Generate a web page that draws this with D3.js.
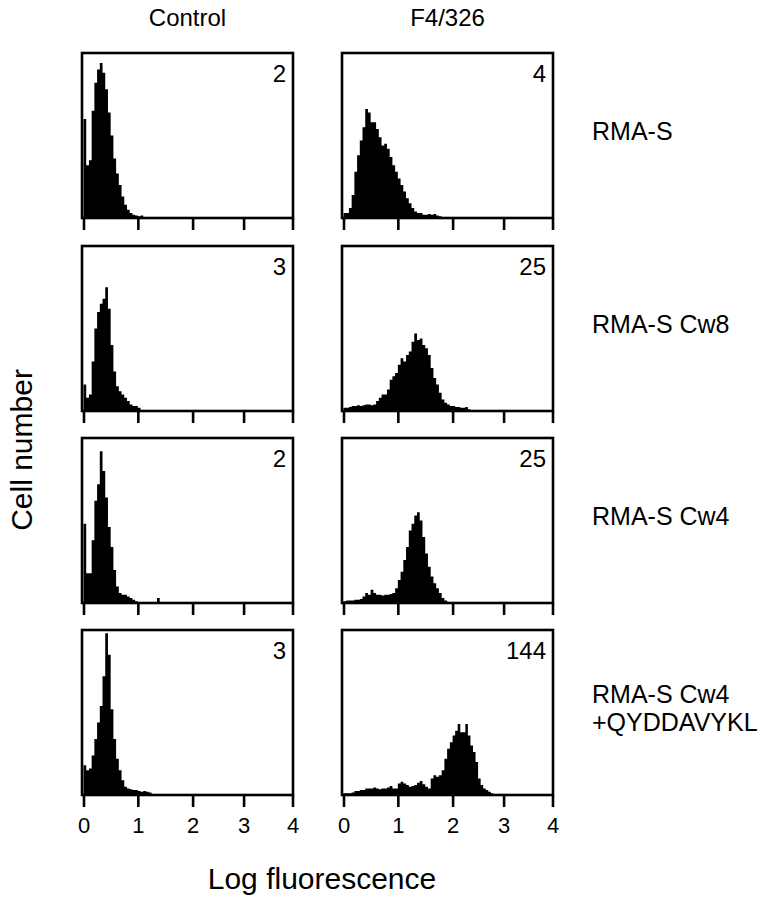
<!DOCTYPE html>
<html lang="en">
<head>
<meta charset="utf-8">
<title>Log fluorescence histograms</title>
<style>
html, body {
    margin: 0;
    background: #fff;
}
svg text {
    font-family: "Liberation Sans", Arial, Helvetica, sans-serif;
    fill: #000;
}
.frame {
    fill: none;
    stroke: #000;
    stroke-width: 2.6;
}
.hist {
    fill: #000;
}
.tick line {
    stroke: #000;
    stroke-width: 2.6;
}
</style>
</head>
<body>

<script src="https://cdnjs.cloudflare.com/ajax/libs/d3/7.8.5/d3.min.js"></script>
<script>
// Data
const binWidth = 0.05;             // log fluorescence per bin
const columns = ['Control', 'F4/326'];
const rowLabels = [['RMA-S'], ['RMA-S Cw8'], ['RMA-S Cw4'], ['RMA-S Cw4', '+QYDDAVYKL']];
const panelNumbers = [[2, 4], [3, 25], [2, 25], [3, 144]];
const xTicks = [0, 1, 2, 3, 4];

// cell number, % of panel height, one value per bin from 0
const controlRmaS = [60, 32, 35, 65, 82, 90, 94, 88, 78, 64, 50, 36, 27, 20, 13, 8, 5, 3, 2, 1.5, 1, 1.5, 0.5];
const controlCw8 = [16, 8, 10, 30, 50, 60, 65, 68, 75, 62, 40, 24, 15, 12, 10, 8, 6, 4, 3, 3, 2, 0.5];
const controlCw4 = [48, 18, 18, 38, 62, 72, 92, 80, 64, 46, 34, 20, 10, 6, 5, 5, 4, 3, 2, 1, 0.5, 0.5,
    0.3, 0.3, 0.5, 0.5, 0.5, 3, 0.5];
const controlCw4Pep = [18, 15, 16, 24, 34, 44, 54, 72, 98, 85, 52, 34, 22, 15, 9, 5, 4, 3.5, 3, 3, 2.5,
    2, 2.5, 2, 1.5, 0.5];

const f4RmaS = [3, 3, 6, 14, 28, 38, 47, 55, 66, 64, 58, 58, 54, 49, 44, 45, 42, 37, 32, 28, 24, 20,
    16, 12, 9, 6, 4, 3, 3, 2, 2, 2.5, 2, 2.5, 1.5, 1, 0.5];
const f4Cw8 = [2, 2, 2.5, 3, 3, 3.5, 3, 3.5, 4, 4, 3.5, 4, 6, 8, 10, 10, 13, 19, 21, 23, 28, 32, 30,
    34, 36, 42, 47, 43, 44, 40, 38, 34, 26, 20, 16, 11, 7, 5, 4, 3, 3, 2.5, 2.5, 2, 2, 2.5, 1];
const f4Cw4 = [1, 1.5, 1.5, 1.5, 2, 2, 2.5, 4, 6, 5, 8, 6, 5, 5, 4.5, 5, 5, 5.5, 6, 9, 14, 19, 26, 34,
    44, 48, 53, 55, 50, 40, 30, 22, 16, 12, 9, 6, 3, 1.5, 0.5];
const f4Cw4Pep = [1, 1, 1, 1.5, 2.5, 2.5, 3, 3, 4, 4, 4, 4.5, 4, 3.5, 4, 4, 4.5, 5.5, 4, 4, 7, 8, 7,
    6, 5, 5.5, 6, 7.5, 8.5, 6.5, 5, 4, 10, 12, 11, 12, 15, 22, 28, 32, 36, 39, 43, 38, 38, 43, 36,
    30, 26, 20, 10, 6, 4, 3, 2, 1];

const histograms = [
  [controlRmaS, f4RmaS],
  [controlCw8, f4Cw8],
  [controlCw4, f4Cw4],
  [controlCw4Pep, f4Cw4Pep]
];

// Layout
const width = 768;
const height = 900;
const colLeft = [82, 342];
const rowTop = [53, 246, 438, 630];
const panelW = 211;
const panelH = 165;
const labelX = 592;

const svg = d3.select('body')
  .append('svg')
  .attr('width', width)
  .attr('height', height);

// scanned axis is a touch compressed above 2
const x = d3.scaleLinear()
  .domain(xTicks)
  .range([0, 0.26, 0.522, 0.766, 1].map(f => 1.5 + f * (panelW - 2)));

const y = d3.scaleLinear()
  .domain([0, 100])
  .range([panelH, 0]);

const area = d3.area()
  .curve(d3.curveStepAfter)
  .x(d => x(d.x))
  .y0(panelH)
  .y1(d => y(d.v));

histograms.forEach((row, r) => {
  row.forEach((counts, c) => {
    const g = svg.append('g')
      .attr('transform', 'translate(' + colLeft[c] + ',' + rowTop[r] + ')');

    const pts = counts.map((v, i) => ({ x: i * binWidth, v: v }));
    pts.push({ x: counts.length * binWidth, v: 0 });

    g.append('path')
      .attr('class', 'hist')
      .attr('d', area(pts));

    const axis = d3.axisBottom(x)
      .tickValues(xTicks)
      .tickSize(12)
      .tickPadding(10)
      .tickFormat(r === histograms.length - 1 ? d3.format('d') : '');

    const ax = g.append('g')
      .attr('transform', 'translate(0,' + panelH + ')')
      .call(axis);
    ax.select('.domain').remove();
    ax.selectAll('text')
      .attr('font-size', 22)
      .attr('font-family', null);

    g.append('rect')
      .attr('class', 'frame')
      .attr('width', panelW)
      .attr('height', panelH);

    g.append('text')
      .attr('x', panelW - 7)
      .attr('y', 29)
      .attr('text-anchor', 'end')
      .attr('font-size', 24)
      .text(panelNumbers[r][c]);
  });

  // row label on the right
  const lines = rowLabels[r];
  svg.append('text')
    .attr('x', labelX)
    .attr('y', rowTop[r] + panelH / 2 - 4 - (lines.length - 1) * 14)
    .attr('font-size', 25)
    .selectAll('tspan')
    .data(lines)
    .enter()
    .append('tspan')
    .attr('x', labelX)
    .attr('dy', (d, i) => i === 0 ? '0.35em' : 28)
    .text(d => d);
});

// column headers
svg.selectAll('.colhead')
  .data(columns)
  .enter()
  .append('text')
  .attr('class', 'colhead')
  .attr('x', (d, i) => colLeft[i] + panelW / 2)
  .attr('y', 26)
  .attr('text-anchor', 'middle')
  .attr('font-size', 24)
  .text(d => d);

// axis titles
svg.append('text')
  .attr('x', 322)
  .attr('y', 889)
  .attr('text-anchor', 'middle')
  .attr('font-size', 30)
  .text('Log fluorescence');

svg.append('text')
  .attr('transform', 'translate(32,450) rotate(-90)')
  .attr('text-anchor', 'middle')
  .attr('font-size', 30)
  .text('Cell number');
</script>
</body>
</html>
